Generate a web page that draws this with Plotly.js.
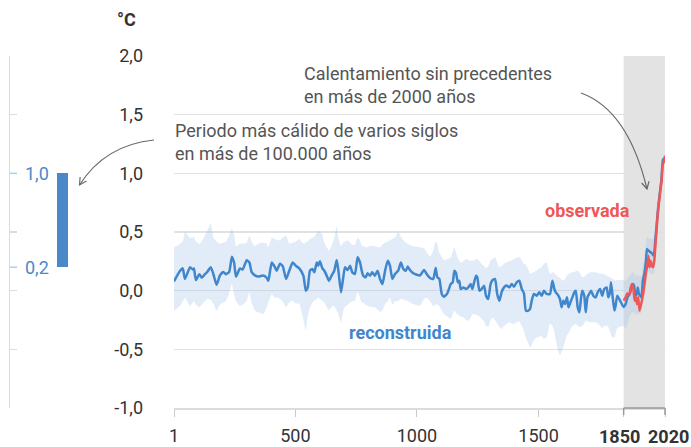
<!DOCTYPE html>
<html><head><meta charset="utf-8">
<script src="https://cdn.plot.ly/plotly-3.0.1.min.js"></script>
<style>html,body{margin:0;padding:0;background:#fff}#chart{width:691px;height:447px}</style>
</head><body><div id="chart"></div>
<script>
// ---------- DATA ----------
const reconYears = [1,26,37,46,67,78,83,91,105,115,128,138,152,163,176,190,204,215,228,239,248,256,272,283,300,311,320,334,348,368,382,389,403,416,423,437,448,462,475,489,503,516,
533,543,551,560,570,578,588,594,601,611,619,629,638,649,660,670,677,688,697,704,715,725,734,745,756,766,773,779,789,797,807,816,827,838,848,858,869,880,889,899,910,923,934,944,954,962,971,985,999,1013,
1029,1040,1054,1067,1077,1084,1092,1102,1111,1125,1139,1147,1154,1161,1168,1174,1180,1191,1202,1211,1221,1228,1235,1243,1248,1257,1266,1276,1284,1293,1303,1311,1321,1330,1339,1348,1358,1369,1380,1390,1399,1410,1421,1431,1440,1448,1458,1465,1472,1481,1492,1503,1513,1522,1533,
1547,1557,1565,1571,1579,1588,1595,1602,1609,1617,1623,1631,1639,1647,1653,1661,1668,1675,1680,1688,1694,1701,1708,1716,1725,1735,1743,1753,1762,1770,1780,1787,1794,1798,1805,1812,1817,1824,
1850,1858,1866,1875,1883,1888,1893,1898,1904,1908,1913,1918,1923,1929,1936,1942,1946,1952,1961,1968,1974,1980,1992,2005,2011,2016];

const reconMean = [0.08,0.17,0.19,0.10,0.20,0.18,0.19,0.09,0.14,0.11,0.14,0.16,0.20,0.14,0.05,0.13,0.16,0.14,0.16,0.29,0.24,0.12,0.19,0.18,0.26,0.24,0.16,0.13,0.12,0.13,0.11,0.085,0.24,0.20,0.17,0.23,0.21,0.10,0.17,0.24,0.21,0.19,
0.128,0,0.028,0.17,0.185,0.156,0.24,0.213,0.25,0.19,0.17,0.128,0.085,0.128,0.17,0.261,0.17,-0.014,0.114,0.199,0.176,0.213,0.156,0.142,0.284,0.24,0.17,0.128,0.114,0.148,0.128,0.156,0.128,0.17,0.10,0.057,0.17,0.256,0.213,0.10,0.142,0.17,0.24,0.185,0.17,0.205,0.176,0.148,0.136,0.13,
0.176,0.142,0.108,0.10,0.193,0.114,0.10,-0.028,-0.051,-0.023,0.057,0.071,0.17,0.148,0.071,0.085,0.014,0.028,0.014,0.028,0.057,0.014,0.071,0.128,0.114,0,0.014,0.043,-0.043,-0.071,0.057,0.091,0.10,-0.028,-0.085,-0.014,0.028,0.043,0.028,0.057,0.034,0.071,0.085,0.014,-0.023,-0.17,-0.17,-0.156,-0.085,-0.028,-0.043,-0.014,-0.043,0,-0.028,
-0.028,0.085,0.014,-0.014,-0.034,-0.071,-0.142,-0.085,-0.114,-0.057,-0.142,-0.10,-0.057,-0.014,0,-0.142,-0.185,-0.057,0,-0.043,-0.185,-0.057,-0.028,0,-0.043,-0.057,-0.014,0.014,-0.043,0.014,0.028,-0.057,-0.014,0.071,-0.057,-0.17,-0.128,-0.043,
-0.14,-0.114,-0.057,-0.028,0.028,0.057,0.043,-0.043,-0.028,0.028,-0.028,-0.043,-0.057,0.085,0.156,0.256,0.355,0.34,0.327,0.313,0.30,0.426,0.71,0.94,1.11,1.13];

const reconHigh = [0.37,0.40,0.42,0.50,0.45,0.45,0.46,0.42,0.40,0.42,0.47,0.51,0.57,0.45,0.42,0.40,0.41,0.42,0.47,0.53,0.48,0.38,0.40,0.40,0.41,0.47,0.42,0.38,0.40,0.41,0.40,0.37,0.45,0.44,0.43,0.43,0.45,0.47,0.40,0.41,0.42,0.44,
0.40,0.41,0.42,0.44,0.45,0.46,0.49,0.51,0.50,0.48,0.41,0.37,0.34,0.38,0.45,0.55,0.45,0.38,0.41,0.42,0.43,0.41,0.39,0.39,0.45,0.43,0.38,0.38,0.37,0.37,0.38,0.38,0.38,0.37,0.37,0.39,0.41,0.42,0.43,0.44,0.455,0.50,0.46,0.43,0.41,0.40,0.39,0.38,0.375,0.37,
0.36,0.33,0.29,0.34,0.42,0.40,0.32,0.29,0.26,0.27,0.28,0.33,0.37,0.32,0.28,0.26,0.24,0.25,0.27,0.26,0.255,0.256,0.26,0.27,0.27,0.25,0.227,0.21,0.19,0.21,0.26,0.27,0.284,0.24,0.20,0.21,0.23,0.242,0.25,0.26,0.27,0.28,0.29,0.26,0.23,0.22,0.18,0.142,0.15,0.16,0.17,0.19,0.20,0.23,0.24,
0.14,0.156,0.15,0.14,0.12,0.11,0.09,0.085,0.10,0.13,0.142,0.15,0.156,0.16,0.165,0.17,0.16,0.13,0.114,0.12,0.13,0.142,0.15,0.156,0.156,0.156,0.15,0.145,0.142,0.14,0.13,0.12,0.114,0.11,0.10,0.09,0.085,0.09,
0.09,0.08,0.11,0.13,0.15,0.16,0.15,0.13,0.13,0.14,0.13,0.12,0.12,0.22,0.30,0.40,0.46,0.45,0.44,0.44,0.45,0.52];

const reconLow = [-0.17,-0.13,-0.09,-0.06,-0.13,-0.10,-0.09,-0.12,-0.14,-0.12,-0.09,-0.07,-0.08,-0.11,-0.17,-0.12,-0.10,-0.085,-0.02,0.06,-0.03,-0.085,-0.13,-0.12,-0.085,-0.014,-0.10,-0.17,-0.185,-0.20,-0.14,-0.10,-0.03,-0.06,-0.057,-0.07,-0.09,-0.14,-0.10,-0.085,-0.11,-0.11,
-0.25,-0.34,-0.22,-0.15,-0.10,-0.085,-0.07,-0.057,-0.07,-0.085,-0.10,-0.14,-0.17,-0.14,-0.13,-0.17,-0.20,-0.27,-0.17,-0.14,-0.12,-0.10,-0.09,-0.085,-0.014,-0.06,-0.10,-0.10,-0.12,-0.128,-0.135,-0.14,-0.142,-0.16,-0.18,-0.17,-0.114,-0.09,-0.057,-0.12,-0.09,-0.085,-0.07,-0.075,-0.085,-0.085,-0.10,-0.114,-0.125,-0.128,
-0.07,-0.06,-0.09,-0.13,-0.12,-0.115,-0.13,-0.17,-0.20,-0.22,-0.24,-0.20,-0.17,-0.19,-0.20,-0.21,-0.22,-0.227,-0.25,-0.256,-0.23,-0.20,-0.20,-0.205,-0.21,-0.22,-0.24,-0.26,-0.30,-0.31,-0.25,-0.23,-0.25,-0.28,-0.31,-0.327,-0.30,-0.284,-0.27,-0.28,-0.284,-0.27,-0.26,-0.30,-0.34,-0.40,-0.45,-0.483,-0.46,-0.42,-0.40,-0.39,-0.39,-0.41,-0.40,
-0.28,-0.30,-0.35,-0.42,-0.50,-0.55,-0.52,-0.48,-0.43,-0.38,-0.36,-0.33,-0.30,-0.29,-0.285,-0.30,-0.31,-0.31,-0.30,-0.28,-0.26,-0.26,-0.27,-0.27,-0.27,-0.27,-0.28,-0.30,-0.32,-0.30,-0.30,-0.31,-0.35,-0.38,-0.40,-0.40,-0.36,-0.32,
-0.30,-0.33,-0.28,-0.22,-0.19,-0.18,-0.19,-0.20,-0.20,-0.19,-0.20,-0.20,-0.18,-0.09,-0.02,0.09,0.16,0.16,0.15,0.14,0.14,0.30];

const obsYears = [1850,1858,1865,1873,1879,1885,1890,1895,1900,1905,1910,1915,1920,1925,1930,1936,1942,1948,1952,1956,1961,1966,1971,1976,1982,1990,1999,2006,2011,2016,2020];
const obsMean  = [-0.085,-0.057,-0.023,-0.034,0.028,0.057,0.014,-0.085,-0.057,-0.114,-0.057,-0.17,-0.128,-0.085,-0.028,0.057,0.156,0.227,0.298,0.199,0.256,0.213,0.199,0.256,0.426,0.65,0.82,0.94,1.08,1.10,1.15];

const warmRange = [0.2, 1.0];          // warmest multi-century period, low/high
const modernPeriod = [1850, 2020];

const xTicks = [1, 500, 1000, 1500, 1850, 2020];
const xTickText = ['1', '500', '1000', '1500', '', ''];   // bold period labels drawn as annotations
const periodLabels = ['1850', '2020'];
const yTicks = [-1, -0.5, 0, 0.5, 1, 1.5, 2];
const fmt = v => v.toFixed(1).replace('.', ',');
const yTickText = yTicks.map(fmt);

// ---------- LAYOUT HELPERS ----------
const W = 691, H = 447, MT = 56, MB = 39, ML = 0, MR = 26;
const PW = W - ML - MR, PH = H - MT - MB;
const xDom0 = 174 / PW;
const xRange = [1, 2020], yRange = [-1, 2];
const pX = x => (x - ML) / PW;
const pY = y => (MT + PH - y) / PH;
const yearX = yr => xDom0 + (yr - xRange[0]) / (xRange[1] - xRange[0]) * (1 - xDom0);
const FONT = 'Roboto, Arial, sans-serif';

function curve(p0, c, p2) {
  return 'M' + pX(p0[0]) + ',' + pY(p0[1]) + ' Q' + pX(c[0]) + ',' + pY(c[1]) + ' ' + pX(p2[0]) + ',' + pY(p2[1]);
}
function head(tip, c, len, ang) {
  const dx = c[0] - tip[0], dy = c[1] - tip[1];
  const L = Math.hypot(dx, dy), ux = dx / L, uy = dy / L;
  const a = ang * Math.PI / 180, ca = Math.cos(a), sa = Math.sin(a);
  const p1 = [tip[0] + len * (ux * ca - uy * sa), tip[1] + len * (ux * sa + uy * ca)];
  const p2 = [tip[0] + len * (ux * ca + uy * sa), tip[1] + len * (-ux * sa + uy * ca)];
  return 'M' + pX(p1[0]) + ',' + pY(p1[1]) + ' L' + pX(tip[0]) + ',' + pY(tip[1]) + ' L' + pX(p2[0]) + ',' + pY(p2[1]);
}

const nBand = reconHigh.length;
const bandYears = reconYears.slice(0, nBand);

const traces = [
  {x: bandYears, y: reconLow, type: 'scatter', mode: 'lines', line: {width: 0, shape: 'spline', smoothing: 0.5}, hoverinfo: 'skip', showlegend: false},
  {x: bandYears, y: reconHigh, type: 'scatter', mode: 'lines', line: {width: 0, shape: 'spline', smoothing: 0.5}, fill: 'tonexty', fillcolor: 'rgba(165,196,234,0.33)', hoverinfo: 'skip', showlegend: false},
  {x: reconYears, y: reconMean, type: 'scatter', mode: 'lines', line: {color: '#3f86cc', width: 2.5, shape: 'spline', smoothing: 0.5}, showlegend: false},
  {x: obsYears, y: obsMean, type: 'scatter', mode: 'lines', line: {color: '#ef5757', width: 2.5, shape: 'spline', smoothing: 0.4}, showlegend: false},
  {x: [0.753], y: [warmRange[1] - warmRange[0]], base: [warmRange[0]], width: [0.153], type: 'bar', xaxis: 'x2', yaxis: 'y2', marker: {color: '#4a88c8', line: {width: 0}}, showlegend: false}
];

const shapes = [
  {type: 'rect', xref: 'x', yref: 'paper', x0: modernPeriod[0], x1: modernPeriod[1], y0: 0, y1: 1, fillcolor: '#e3e3e3', line: {width: 0}, layer: 'below'},
  // bracket under modern period
  {type: 'line', xref: 'paper', yref: 'paper', x0: yearX(modernPeriod[0]), x1: yearX(modernPeriod[1]), y0: 0, y1: 0, line: {color: '#9a9a9a', width: 1.5}},
  {type: 'line', xref: 'paper', yref: 'paper', x0: yearX(modernPeriod[0]), x1: yearX(modernPeriod[0]), y0: 0, y1: pY(415), line: {color: '#9a9a9a', width: 1.5}},
  {type: 'line', xref: 'paper', yref: 'paper', x0: yearX(modernPeriod[1]), x1: yearX(modernPeriod[1]), y0: 0, y1: pY(415), line: {color: '#9a9a9a', width: 1.5}},
  // blue ticks on side axis
  ...warmRange.map(v => ({type: 'line', xref: 'x2', yref: 'y2', x0: 0, x1: 0.1, y0: v, y1: v, line: {color: '#a9d0ea', width: 1.5}})),
  // arrows
  {type: 'path', xref: 'paper', yref: 'paper', path: curve([581, 93], [628, 110], [647, 189]), line: {color: '#6a6a6a', width: 1.2}},
  {type: 'path', xref: 'paper', yref: 'paper', path: head([647, 189], [628, 110], 8, 28), line: {color: '#6a6a6a', width: 1.2}},
  {type: 'path', xref: 'paper', yref: 'paper', path: curve([154, 140], [105, 145], [79.5, 185]), line: {color: '#6a6a6a', width: 1.2}},
  {type: 'path', xref: 'paper', yref: 'paper', path: head([79.5, 185], [105, 145], 8, 28), line: {color: '#6a6a6a', width: 1.2}}
];

const ann = (txt, x, y, opts) => Object.assign({text: txt, xref: 'paper', yref: 'paper', x: pX(x), y: pY(y), showarrow: false, xanchor: 'left', yanchor: 'middle', align: 'left', font: {family: FONT, size: 18, color: '#555'}}, opts || {});

const annotations = [
  ann('<b>°C</b>', 126, 20, {xanchor: 'center', font: {family: FONT, size: 18, color: '#333'}}),
  ann('Calentamiento sin precedentes<br>en más de 2000 años', 302, 85),
  ann('Periodo más cálido de varios siglos<br>en más de 100.000 años', 173, 142),
  ann('<b>observada</b>', 587, 210, {xanchor: 'center', font: {family: FONT, size: 18, color: '#ef5757'}}),
  ann('<b>reconstruida</b>', 401, 332, {xanchor: 'center', font: {family: FONT, size: 18, color: '#3f86cc'}}),
  ann('<b>' + periodLabels[0] + '</b>', 642, 436, {xanchor: 'right', font: {family: FONT, size: 18, color: '#333'}}),
  ann('<b>' + periodLabels[1] + '</b>', 646, 436, {xanchor: 'left', font: {family: FONT, size: 18, color: '#333'}}),
  ...warmRange.map(v => ({text: fmt(v), xref: 'x2', yref: 'y2', x: 0.58, y: v, xanchor: 'right', yanchor: 'middle', showarrow: false, font: {family: FONT, size: 18, color: '#4a8ac9'}}))
];

const layout = {
  width: W, height: H,
  margin: {l: ML, r: MR, t: MT, b: MB, pad: 0},
  paper_bgcolor: '#fff', plot_bgcolor: 'rgba(0,0,0,0)',
  font: {family: FONT, size: 18, color: '#333'},
  showlegend: false,
  xaxis: {domain: [xDom0, 1], range: xRange, anchor: 'y', showgrid: false, zeroline: false,
    showline: true, linecolor: '#dcdcdc', linewidth: 1.5,
    ticks: 'outside', ticklen: 7, tickwidth: 1, tickcolor: '#c8c8c8',
    tickmode: 'array', tickvals: xTicks, ticktext: xTickText, tickangle: 0, ticklabelstandoff: 4,
    tickfont: {family: FONT, size: 18, color: '#333'}, fixedrange: true},
  yaxis: {domain: [0, 1], range: yRange, anchor: 'x', showgrid: true, gridcolor: '#e1e1e1', gridwidth: 1.5,
    zeroline: false, showline: false, ticks: '', tickmode: 'array', tickvals: yTicks, ticktext: yTickText,
    ticklabelstandoff: 30, tickfont: {family: FONT, size: 18, color: '#333'}, fixedrange: true},
  xaxis2: {domain: [pX(10), pX(80)], range: [0, 1], anchor: 'y2', visible: false, fixedrange: true},
  yaxis2: {domain: [0, 1], range: yRange, anchor: 'x2', showgrid: false, zeroline: false,
    showline: true, linecolor: '#dcdcdc', linewidth: 1.5, ticks: 'inside', ticklen: 7, tickwidth: 1.5, tickcolor: '#dcdcdc',
    tickmode: 'array', tickvals: yTicks, showticklabels: false, fixedrange: true},
  bargap: 0,
  shapes: shapes,
  annotations: annotations
};

Plotly.newPlot('chart', traces, layout, {displayModeBar: false, staticPlot: true});
</script></body></html>
